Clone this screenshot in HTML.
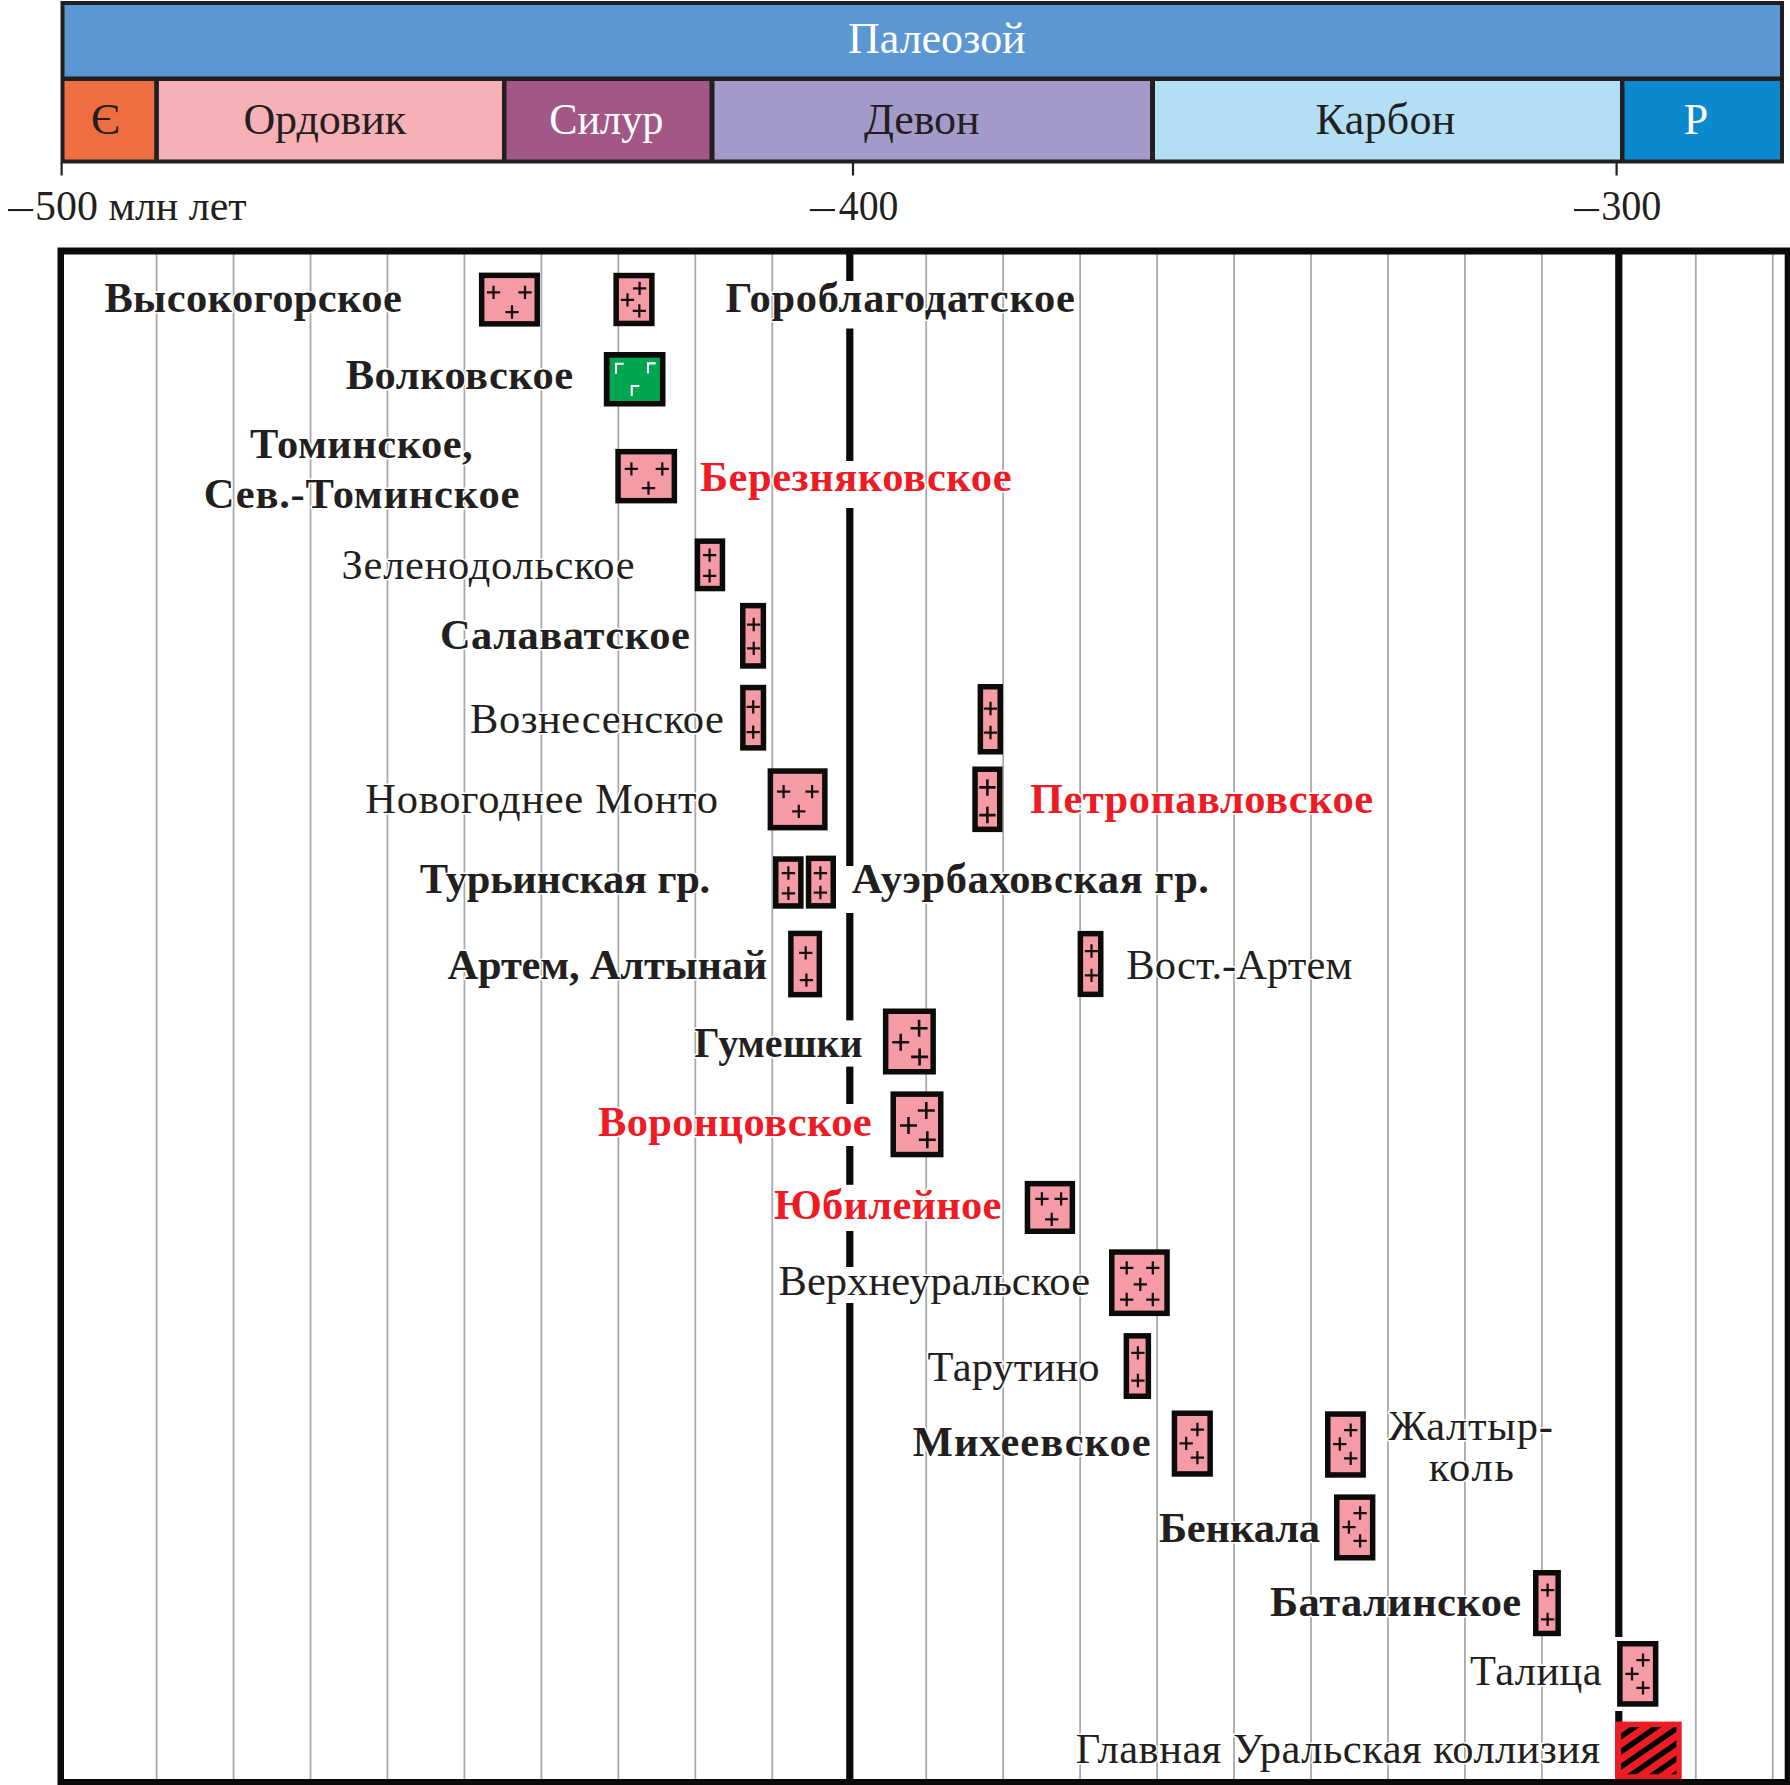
<!DOCTYPE html><html><head><meta charset="utf-8"><style>html,body{margin:0;padding:0;background:#fff;width:1790px;height:1785px;overflow:hidden;position:relative;font-family:"Liberation Serif",serif}</style></head><body><svg width="1790" height="1785" viewBox="0 0 1790 1785" style="position:absolute;left:0;top:0;display:block">
<rect x="60.5" y="1" width="1723.5" height="162.5" fill="#231f20"/>
<rect x="64.5" y="5" width="1715.5" height="71.5" fill="#5b97d2"/>
<rect x="64.5" y="81" width="89.69999999999999" height="78.5" fill="#ef6e41"/>
<rect x="158.9" y="81" width="343.1" height="78.5" fill="#f6b0b6"/>
<rect x="506.5" y="81" width="203.0" height="78.5" fill="#a35786"/>
<rect x="714.5" y="81" width="435.5" height="78.5" fill="#a39acb"/>
<rect x="1155" y="81" width="465" height="78.5" fill="#b2dff5"/>
<rect x="1624.5" y="81" width="155.5" height="78.5" fill="#0a89cf"/>
<rect x="60.5" y="163" width="2.2" height="12.5" fill="#231f20"/>
<rect x="851.9" y="163" width="2.2" height="12.5" fill="#231f20"/>
<rect x="1615.5" y="163" width="2.2" height="12.5" fill="#231f20"/>
<rect x="8.0" y="209" width="25.2" height="2.1" fill="#231f20"/>
<rect x="809.8" y="209" width="25.2" height="2.1" fill="#231f20"/>
<rect x="1574.0" y="209" width="25.2" height="2.1" fill="#231f20"/>
<rect x="155.70" y="254" width="1.8" height="1526" fill="#a7aaac"/>
<rect x="232.66" y="254" width="1.8" height="1526" fill="#a7aaac"/>
<rect x="309.62" y="254" width="1.8" height="1526" fill="#a7aaac"/>
<rect x="386.58" y="254" width="1.8" height="1526" fill="#a7aaac"/>
<rect x="463.54" y="254" width="1.8" height="1526" fill="#a7aaac"/>
<rect x="540.50" y="254" width="1.8" height="1526" fill="#a7aaac"/>
<rect x="617.46" y="254" width="1.8" height="1526" fill="#a7aaac"/>
<rect x="694.42" y="254" width="1.8" height="1526" fill="#a7aaac"/>
<rect x="771.38" y="254" width="1.8" height="1526" fill="#a7aaac"/>
<rect x="925.30" y="254" width="1.8" height="1526" fill="#a7aaac"/>
<rect x="1002.26" y="254" width="1.8" height="1526" fill="#a7aaac"/>
<rect x="1079.22" y="254" width="1.8" height="1526" fill="#a7aaac"/>
<rect x="1156.18" y="254" width="1.8" height="1526" fill="#a7aaac"/>
<rect x="1233.14" y="254" width="1.8" height="1526" fill="#a7aaac"/>
<rect x="1310.10" y="254" width="1.8" height="1526" fill="#a7aaac"/>
<rect x="1387.06" y="254" width="1.8" height="1526" fill="#a7aaac"/>
<rect x="1464.02" y="254" width="1.8" height="1526" fill="#a7aaac"/>
<rect x="1540.98" y="254" width="1.8" height="1526" fill="#a7aaac"/>
<rect x="1694.90" y="254" width="1.8" height="1526" fill="#a7aaac"/>
<rect x="1771.86" y="254" width="1.8" height="1526" fill="#a7aaac"/>
<rect x="846.2" y="254" width="7.2" height="27" fill="#0c0b09"/>
<rect x="846.2" y="328.5" width="7.2" height="132.5" fill="#0c0b09"/>
<rect x="846.2" y="508" width="7.2" height="358" fill="#0c0b09"/>
<rect x="846.2" y="913" width="7.2" height="107.39999999999998" fill="#0c0b09"/>
<rect x="846.2" y="1066.6" width="7.2" height="37.40000000000009" fill="#0c0b09"/>
<rect x="846.2" y="1146" width="7.2" height="38.799999999999955" fill="#0c0b09"/>
<rect x="846.2" y="1231" width="7.2" height="36" fill="#0c0b09"/>
<rect x="846.2" y="1303" width="7.2" height="476" fill="#0c0b09"/>
<rect x="1615.2" y="254" width="7.2" height="1383" fill="#0c0b09"/>
<rect x="1615.2" y="1711" width="7.2" height="11" fill="#0c0b09"/>
<path d="M57.5 247.5H1791V1786H57.5Z M64 254.5V1779H1784.7V254.5Z" fill="#0c0b09" fill-rule="evenodd"/>
<rect x="478.9" y="272.6" width="61.10" height="54.00" fill="#0c0b09"/>
<rect x="484.40" y="278.10" width="50.10" height="43.00" fill="#f49ba6"/>
<path d="M486.85 292.40H500.15M493.50 285.75V299.05" stroke="#140f10" stroke-width="2.25" fill="none"/>
<path d="M518.35 292.40H531.65M525.00 285.75V299.05" stroke="#140f10" stroke-width="2.25" fill="none"/>
<path d="M505.35 312.00H518.65M512.00 305.35V318.65" stroke="#140f10" stroke-width="2.25" fill="none"/>
<rect x="613.4" y="272.8" width="41.20" height="53.40" fill="#0c0b09"/>
<rect x="618.90" y="278.30" width="30.20" height="42.40" fill="#f49ba6"/>
<path d="M632.95 288.30H646.25M639.60 281.65V294.95" stroke="#140f10" stroke-width="2.25" fill="none"/>
<path d="M620.85 299.80H634.15M627.50 293.15V306.45" stroke="#140f10" stroke-width="2.25" fill="none"/>
<path d="M632.65 310.80H645.95M639.30 304.15V317.45" stroke="#140f10" stroke-width="2.25" fill="none"/>
<rect x="615.3" y="448.9" width="61.80" height="54.50" fill="#0c0b09"/>
<rect x="620.80" y="454.40" width="50.80" height="43.50" fill="#f49ba6"/>
<path d="M624.75 468.90H638.05M631.40 462.25V475.55" stroke="#140f10" stroke-width="2.25" fill="none"/>
<path d="M655.65 468.90H668.95M662.30 462.25V475.55" stroke="#140f10" stroke-width="2.25" fill="none"/>
<path d="M641.85 488.20H655.15M648.50 481.55V494.85" stroke="#140f10" stroke-width="2.25" fill="none"/>
<rect x="694.7" y="538.4" width="30.50" height="52.90" fill="#0c0b09"/>
<rect x="700.20" y="543.90" width="19.50" height="41.90" fill="#f49ba6"/>
<path d="M702.95 555.20H716.25M709.60 548.55V561.85" stroke="#140f10" stroke-width="2.25" fill="none"/>
<path d="M702.95 575.80H716.25M709.60 569.15V582.45" stroke="#140f10" stroke-width="2.25" fill="none"/>
<rect x="740" y="602.9" width="26.10" height="65.80" fill="#0c0b09"/>
<rect x="745.50" y="608.40" width="15.10" height="54.80" fill="#f49ba6"/>
<path d="M747.05 624.50H760.35M753.70 617.85V631.15" stroke="#140f10" stroke-width="2.25" fill="none"/>
<path d="M747.05 648.30H760.35M753.70 641.65V654.95" stroke="#140f10" stroke-width="2.25" fill="none"/>
<rect x="740.1" y="684.8" width="26.10" height="65.80" fill="#0c0b09"/>
<rect x="745.60" y="690.30" width="15.10" height="54.80" fill="#f49ba6"/>
<path d="M746.55 706.80H759.85M753.20 700.15V713.45" stroke="#140f10" stroke-width="2.25" fill="none"/>
<path d="M746.55 732.20H759.85M753.20 725.55V738.85" stroke="#140f10" stroke-width="2.25" fill="none"/>
<rect x="977.6" y="684" width="25.40" height="70.50" fill="#0c0b09"/>
<rect x="983.10" y="689.50" width="14.40" height="59.50" fill="#f49ba6"/>
<path d="M983.85 708.50H997.15M990.50 701.85V715.15" stroke="#140f10" stroke-width="2.25" fill="none"/>
<path d="M983.85 732.50H997.15M990.50 725.85V739.15" stroke="#140f10" stroke-width="2.25" fill="none"/>
<rect x="767.6" y="768.3" width="60.00" height="62.10" fill="#0c0b09"/>
<rect x="773.10" y="773.80" width="49.00" height="51.10" fill="#f49ba6"/>
<path d="M776.95 791.70H790.25M783.60 785.05V798.35" stroke="#140f10" stroke-width="2.25" fill="none"/>
<path d="M805.45 791.70H818.75M812.10 785.05V798.35" stroke="#140f10" stroke-width="2.25" fill="none"/>
<path d="M792.15 811.30H805.45M798.80 804.65V817.95" stroke="#140f10" stroke-width="2.25" fill="none"/>
<rect x="972.3" y="766.5" width="30.20" height="65.60" fill="#0c0b09"/>
<rect x="977.80" y="772.00" width="19.20" height="54.60" fill="#f49ba6"/>
<path d="M979.15 787.40H995.65M987.40 779.15V795.65" stroke="#140f10" stroke-width="2.6" fill="none"/>
<path d="M979.15 815.10H995.65M987.40 806.85V823.35" stroke="#140f10" stroke-width="2.6" fill="none"/>
<rect x="773" y="856.3" width="30.60" height="52.40" fill="#0c0b09"/>
<rect x="778.50" y="861.80" width="19.60" height="41.40" fill="#f49ba6"/>
<path d="M781.75 873.00H795.05M788.40 866.35V879.65" stroke="#140f10" stroke-width="2.25" fill="none"/>
<path d="M781.75 893.40H795.05M788.40 886.75V900.05" stroke="#140f10" stroke-width="2.25" fill="none"/>
<rect x="805.8" y="855.6" width="30.20" height="53.00" fill="#0c0b09"/>
<rect x="811.30" y="861.10" width="19.20" height="42.00" fill="#f49ba6"/>
<path d="M813.75 873.00H827.05M820.40 866.35V879.65" stroke="#140f10" stroke-width="2.25" fill="none"/>
<path d="M813.75 892.50H827.05M820.40 885.85V899.15" stroke="#140f10" stroke-width="2.25" fill="none"/>
<rect x="788.1" y="930.7" width="34.00" height="66.70" fill="#0c0b09"/>
<rect x="793.60" y="936.20" width="23.00" height="55.70" fill="#f49ba6"/>
<path d="M799.05 952.90H812.35M805.70 946.25V959.55" stroke="#140f10" stroke-width="2.25" fill="none"/>
<path d="M799.75 980.10H813.05M806.40 973.45V986.75" stroke="#140f10" stroke-width="2.25" fill="none"/>
<rect x="1077.6" y="930.9" width="25.90" height="66.20" fill="#0c0b09"/>
<rect x="1083.10" y="936.40" width="14.90" height="55.20" fill="#f49ba6"/>
<path d="M1084.85 951.00H1098.15M1091.50 944.35V957.65" stroke="#140f10" stroke-width="2.25" fill="none"/>
<path d="M1084.85 975.30H1098.15M1091.50 968.65V981.95" stroke="#140f10" stroke-width="2.25" fill="none"/>
<rect x="882.9" y="1008.5" width="53.00" height="66.00" fill="#0c0b09"/>
<rect x="888.40" y="1014.00" width="42.00" height="55.00" fill="#f49ba6"/>
<path d="M910.60 1028.20H927.60M919.10 1019.70V1036.70" stroke="#140f10" stroke-width="2.6" fill="none"/>
<path d="M892.20 1042.30H909.20M900.70 1033.80V1050.80" stroke="#140f10" stroke-width="2.6" fill="none"/>
<path d="M911.10 1056.90H928.10M919.60 1048.40V1065.40" stroke="#140f10" stroke-width="2.6" fill="none"/>
<rect x="890.5" y="1091.4" width="53.00" height="65.90" fill="#0c0b09"/>
<rect x="896.00" y="1096.90" width="42.00" height="54.90" fill="#f49ba6"/>
<path d="M917.80 1110.50H934.80M926.30 1102.00V1119.00" stroke="#140f10" stroke-width="2.6" fill="none"/>
<path d="M900.00 1125.50H917.00M908.50 1117.00V1134.00" stroke="#140f10" stroke-width="2.6" fill="none"/>
<path d="M918.80 1139.70H935.80M927.30 1131.20V1148.20" stroke="#140f10" stroke-width="2.6" fill="none"/>
<rect x="1024.7" y="1180.9" width="50.40" height="53.10" fill="#0c0b09"/>
<rect x="1030.20" y="1186.40" width="39.40" height="42.10" fill="#f49ba6"/>
<path d="M1035.25 1198.80H1048.55M1041.90 1192.15V1205.45" stroke="#140f10" stroke-width="2.25" fill="none"/>
<path d="M1054.45 1198.80H1067.75M1061.10 1192.15V1205.45" stroke="#140f10" stroke-width="2.25" fill="none"/>
<path d="M1045.05 1219.30H1058.35M1051.70 1212.65V1225.95" stroke="#140f10" stroke-width="2.25" fill="none"/>
<rect x="1109" y="1249.3" width="60.80" height="66.80" fill="#0c0b09"/>
<rect x="1114.50" y="1254.80" width="49.80" height="55.80" fill="#f49ba6"/>
<path d="M1120.05 1267.90H1133.35M1126.70 1261.25V1274.55" stroke="#140f10" stroke-width="2.25" fill="none"/>
<path d="M1146.15 1267.90H1159.45M1152.80 1261.25V1274.55" stroke="#140f10" stroke-width="2.25" fill="none"/>
<path d="M1133.65 1284.30H1146.95M1140.30 1277.65V1290.95" stroke="#140f10" stroke-width="2.25" fill="none"/>
<path d="M1120.05 1299.50H1133.35M1126.70 1292.85V1306.15" stroke="#140f10" stroke-width="2.25" fill="none"/>
<path d="M1146.15 1299.50H1159.45M1152.80 1292.85V1306.15" stroke="#140f10" stroke-width="2.25" fill="none"/>
<rect x="1123.6" y="1333.1" width="27.50" height="65.90" fill="#0c0b09"/>
<rect x="1129.10" y="1338.60" width="16.50" height="54.90" fill="#f49ba6"/>
<path d="M1131.25 1352.90H1144.55M1137.90 1346.25V1359.55" stroke="#140f10" stroke-width="2.25" fill="none"/>
<path d="M1131.25 1380.50H1144.55M1137.90 1373.85V1387.15" stroke="#140f10" stroke-width="2.25" fill="none"/>
<rect x="1171.7" y="1410.5" width="41.20" height="66.20" fill="#0c0b09"/>
<rect x="1177.20" y="1416.00" width="30.20" height="55.20" fill="#f49ba6"/>
<path d="M1190.75 1429.50H1204.05M1197.40 1422.85V1436.15" stroke="#140f10" stroke-width="2.25" fill="none"/>
<path d="M1179.55 1443.30H1192.85M1186.20 1436.65V1449.95" stroke="#140f10" stroke-width="2.25" fill="none"/>
<path d="M1190.75 1457.60H1204.05M1197.40 1450.95V1464.25" stroke="#140f10" stroke-width="2.25" fill="none"/>
<rect x="1325" y="1411.3" width="40.90" height="66.40" fill="#0c0b09"/>
<rect x="1330.50" y="1416.80" width="29.90" height="55.40" fill="#f49ba6"/>
<path d="M1344.05 1430.10H1357.35M1350.70 1423.45V1436.75" stroke="#140f10" stroke-width="2.25" fill="none"/>
<path d="M1333.15 1444.00H1346.45M1339.80 1437.35V1450.65" stroke="#140f10" stroke-width="2.25" fill="none"/>
<path d="M1344.05 1458.40H1357.35M1350.70 1451.75V1465.05" stroke="#140f10" stroke-width="2.25" fill="none"/>
<rect x="1334" y="1494.4" width="41.40" height="66.10" fill="#0c0b09"/>
<rect x="1339.50" y="1499.90" width="30.40" height="55.10" fill="#f49ba6"/>
<path d="M1353.45 1513.00H1366.75M1360.10 1506.35V1519.65" stroke="#140f10" stroke-width="2.25" fill="none"/>
<path d="M1342.25 1527.10H1355.55M1348.90 1520.45V1533.75" stroke="#140f10" stroke-width="2.25" fill="none"/>
<path d="M1353.45 1540.90H1366.75M1360.10 1534.25V1547.55" stroke="#140f10" stroke-width="2.25" fill="none"/>
<rect x="1533" y="1570" width="27.90" height="66.20" fill="#0c0b09"/>
<rect x="1538.50" y="1575.50" width="16.90" height="55.20" fill="#f49ba6"/>
<path d="M1540.95 1590.20H1554.25M1547.60 1583.55V1596.85" stroke="#140f10" stroke-width="2.25" fill="none"/>
<path d="M1540.95 1619.30H1554.25M1547.60 1612.65V1625.95" stroke="#140f10" stroke-width="2.25" fill="none"/>
<rect x="1617.1" y="1641" width="41.30" height="65.70" fill="#0c0b09"/>
<rect x="1622.60" y="1646.50" width="30.30" height="54.70" fill="#f49ba6"/>
<path d="M1636.35 1660.20H1649.65M1643.00 1653.55V1666.85" stroke="#140f10" stroke-width="2.25" fill="none"/>
<path d="M1625.35 1673.80H1638.65M1632.00 1667.15V1680.45" stroke="#140f10" stroke-width="2.25" fill="none"/>
<path d="M1636.35 1687.90H1649.65M1643.00 1681.25V1694.55" stroke="#140f10" stroke-width="2.25" fill="none"/>
<rect x="603.8" y="352" width="61.70" height="54.50" fill="#0c0b09"/>
<rect x="609.60" y="357.70" width="50.30" height="43.30" fill="#00a650"/>
<path d="M616.00 373.80V363.80H623.70" stroke="#fff" stroke-width="2.1" fill="none"/>
<path d="M648.00 373.40V363.40H655.70" stroke="#fff" stroke-width="2.1" fill="none"/>
<path d="M631.70 396.00V386.00H639.40" stroke="#fff" stroke-width="2.1" fill="none"/>
<defs><clipPath id="hc"><rect x="1621.1" y="1727.1" width="55.30" height="47.10"/></clipPath></defs>
<rect x="1615.0" y="1721.6" width="66.70" height="57.40" fill="#ed1c24"/>
<g clip-path="url(#hc)">
<path d="M1600 1705.71L1700 1636.71" stroke="#000" stroke-width="5.43"/>
<path d="M1600 1720.81L1700 1651.81" stroke="#000" stroke-width="5.43"/>
<path d="M1600 1735.91L1700 1666.91" stroke="#000" stroke-width="5.43"/>
<path d="M1600 1751.01L1700 1682.01" stroke="#000" stroke-width="5.43"/>
<path d="M1600 1766.11L1700 1697.11" stroke="#000" stroke-width="5.43"/>
<path d="M1600 1781.21L1700 1712.21" stroke="#000" stroke-width="5.43"/>
<path d="M1600 1796.31L1700 1727.31" stroke="#000" stroke-width="5.43"/>
<path d="M1600 1811.41L1700 1742.41" stroke="#000" stroke-width="5.43"/>
<path d="M1600 1826.51L1700 1757.51" stroke="#000" stroke-width="5.43"/>
<path d="M1600 1841.61L1700 1772.61" stroke="#000" stroke-width="5.43"/>
<path d="M1600 1856.71L1700 1787.71" stroke="#000" stroke-width="5.43"/>
</g>
<text x="848.00" y="53.10" font-family="Liberation Serif" font-size="44" font-weight="400" fill="#ffffff" letter-spacing="-0.029">Палеозой</text>
<text x="91.00" y="134.30" font-family="Liberation Serif" font-size="44" font-weight="400" fill="#231f20" letter-spacing="0.000">Є</text>
<text x="243.40" y="134.30" font-family="Liberation Serif" font-size="44" font-weight="400" fill="#231f20" letter-spacing="-0.100">Ордовик</text>
<text transform="translate(549.14 134.20) scale(0.9624 1)" x="0" y="0" font-family="Liberation Serif" font-size="44" font-weight="400" fill="#ffffff">Силур</text>
<text x="863.90" y="134.20" font-family="Liberation Serif" font-size="44" font-weight="400" fill="#231f20" letter-spacing="-0.125">Девон</text>
<text x="1315.60" y="134.20" font-family="Liberation Serif" font-size="44" font-weight="400" fill="#231f20" letter-spacing="0.280">Карбон</text>
<text x="1683.80" y="134.20" font-family="Liberation Serif" font-size="44" font-weight="400" fill="#ffffff" letter-spacing="0.000">P</text>
<text transform="translate(35.05 220.00) scale(0.9749 1)" x="0" y="0" font-family="Liberation Serif" font-size="43" font-weight="400" fill="#231f20">500 млн лет</text>
<text transform="translate(838.80 220.00) scale(0.9250 1)" x="0" y="0" font-family="Liberation Serif" font-size="43" font-weight="400" fill="#231f20">400</text>
<text transform="translate(1601.13 220.00) scale(0.9355 1)" x="0" y="0" font-family="Liberation Serif" font-size="43" font-weight="400" fill="#231f20">300</text>
<text x="104.40" y="312.40" font-family="Liberation Serif" font-size="42.5" font-weight="700" fill="#231f20" letter-spacing="0.383" stroke="#fff" stroke-width="3" paint-order="stroke" stroke-linejoin="round">Высокогорское</text>
<text x="725.50" y="311.90" font-family="Liberation Serif" font-size="42.5" font-weight="700" fill="#231f20" letter-spacing="0.693" stroke="#fff" stroke-width="3" paint-order="stroke" stroke-linejoin="round">Гороблагодатское</text>
<text x="345.80" y="389.00" font-family="Liberation Serif" font-size="42.5" font-weight="700" fill="#231f20" letter-spacing="0.444" stroke="#fff" stroke-width="3" paint-order="stroke" stroke-linejoin="round">Волковское</text>
<text x="250.10" y="458.00" font-family="Liberation Serif" font-size="42.5" font-weight="700" fill="#231f20" letter-spacing="0.478" stroke="#fff" stroke-width="3" paint-order="stroke" stroke-linejoin="round">Томинское,</text>
<text x="203.80" y="508.00" font-family="Liberation Serif" font-size="42.5" font-weight="700" fill="#231f20" letter-spacing="0.769" stroke="#fff" stroke-width="3" paint-order="stroke" stroke-linejoin="round">Сев.-Томинское</text>
<text x="699.90" y="491.40" font-family="Liberation Serif" font-size="42.5" font-weight="700" fill="#ed1c24" letter-spacing="0.546" stroke="#fff" stroke-width="3" paint-order="stroke" stroke-linejoin="round">Березняковское</text>
<text x="341.60" y="578.70" font-family="Liberation Serif" font-size="42.5" font-weight="400" fill="#231f20" letter-spacing="0.700" stroke="#fff" stroke-width="3" paint-order="stroke" stroke-linejoin="round">Зеленодольское</text>
<text x="439.90" y="649.20" font-family="Liberation Serif" font-size="42.5" font-weight="700" fill="#231f20" letter-spacing="0.510" stroke="#fff" stroke-width="3" paint-order="stroke" stroke-linejoin="round">Салаватское</text>
<text x="470.10" y="733.10" font-family="Liberation Serif" font-size="42.5" font-weight="400" fill="#231f20" letter-spacing="0.518" stroke="#fff" stroke-width="3" paint-order="stroke" stroke-linejoin="round">Вознесенское</text>
<text x="365.30" y="813.10" font-family="Liberation Serif" font-size="42.5" font-weight="400" fill="#231f20" letter-spacing="0.713" stroke="#fff" stroke-width="3" paint-order="stroke" stroke-linejoin="round">Новогоднее Монто</text>
<text x="1029.90" y="813.00" font-family="Liberation Serif" font-size="42.5" font-weight="700" fill="#ed1c24" letter-spacing="0.464" stroke="#fff" stroke-width="3" paint-order="stroke" stroke-linejoin="round">Петропавловское</text>
<text x="419.80" y="892.90" font-family="Liberation Serif" font-size="42.5" font-weight="700" fill="#231f20" letter-spacing="-0.254" stroke="#fff" stroke-width="3" paint-order="stroke" stroke-linejoin="round">Турьинская гр.</text>
<text x="851.70" y="893.10" font-family="Liberation Serif" font-size="42.5" font-weight="700" fill="#231f20" letter-spacing="0.531" stroke="#fff" stroke-width="3" paint-order="stroke" stroke-linejoin="round">Ауэрбаховская гр.</text>
<text x="447.60" y="979.00" font-family="Liberation Serif" font-size="42.5" font-weight="700" fill="#231f20" letter-spacing="-0.215" stroke="#fff" stroke-width="3" paint-order="stroke" stroke-linejoin="round">Артем, Алтынай</text>
<text x="1126.30" y="979.00" font-family="Liberation Serif" font-size="42.5" font-weight="400" fill="#231f20" letter-spacing="0.060" stroke="#fff" stroke-width="3" paint-order="stroke" stroke-linejoin="round">Вост.-Артем</text>
<text transform="translate(694.20 1057.30) scale(0.9421 1)" x="0" y="0" font-family="Liberation Serif" font-size="42.5" font-weight="700" fill="#231f20" stroke="#fff" stroke-width="3" paint-order="stroke" stroke-linejoin="round">Гумешки</text>
<text x="598.00" y="1135.80" font-family="Liberation Serif" font-size="42.5" font-weight="700" fill="#ed1c24" letter-spacing="0.327" stroke="#fff" stroke-width="3" paint-order="stroke" stroke-linejoin="round">Воронцовское</text>
<text x="773.90" y="1218.60" font-family="Liberation Serif" font-size="42.5" font-weight="700" fill="#ed1c24" letter-spacing="0.263" stroke="#fff" stroke-width="3" paint-order="stroke" stroke-linejoin="round">Юбилейное</text>
<text x="778.50" y="1295.00" font-family="Liberation Serif" font-size="42.5" font-weight="400" fill="#231f20" letter-spacing="0.071" stroke="#fff" stroke-width="3" paint-order="stroke" stroke-linejoin="round">Верхнеуральское</text>
<text x="927.60" y="1381.00" font-family="Liberation Serif" font-size="42.5" font-weight="400" fill="#231f20" letter-spacing="0.143" stroke="#fff" stroke-width="3" paint-order="stroke" stroke-linejoin="round">Тарутино</text>
<text x="912.80" y="1456.00" font-family="Liberation Serif" font-size="42.5" font-weight="700" fill="#231f20" letter-spacing="0.978" stroke="#fff" stroke-width="3" paint-order="stroke" stroke-linejoin="round">Михеевское</text>
<text x="1388.40" y="1439.50" font-family="Liberation Serif" font-size="42.5" font-weight="400" fill="#231f20" letter-spacing="0.733" stroke="#fff" stroke-width="3" paint-order="stroke" stroke-linejoin="round">Жалтыр-</text>
<text x="1428.80" y="1480.60" font-family="Liberation Serif" font-size="42.5" font-weight="400" fill="#231f20" letter-spacing="1.733" stroke="#fff" stroke-width="3" paint-order="stroke" stroke-linejoin="round">коль</text>
<text x="1158.90" y="1542.20" font-family="Liberation Serif" font-size="42.5" font-weight="700" fill="#231f20" letter-spacing="-0.133" stroke="#fff" stroke-width="3" paint-order="stroke" stroke-linejoin="round">Бенкала</text>
<text x="1270.10" y="1616.10" font-family="Liberation Serif" font-size="42.5" font-weight="700" fill="#231f20" letter-spacing="0.410" stroke="#fff" stroke-width="3" paint-order="stroke" stroke-linejoin="round">Баталинское</text>
<text x="1470.00" y="1685.00" font-family="Liberation Serif" font-size="42.5" font-weight="400" fill="#231f20" letter-spacing="0.360" stroke="#fff" stroke-width="3" paint-order="stroke" stroke-linejoin="round">Талица</text>
<text x="1075.70" y="1763.00" font-family="Liberation Serif" font-size="42.5" font-weight="400" fill="#231f20" letter-spacing="0.496" stroke="#fff" stroke-width="3" paint-order="stroke" stroke-linejoin="round">Главная Уральская коллизия</text>
</svg></body></html>
